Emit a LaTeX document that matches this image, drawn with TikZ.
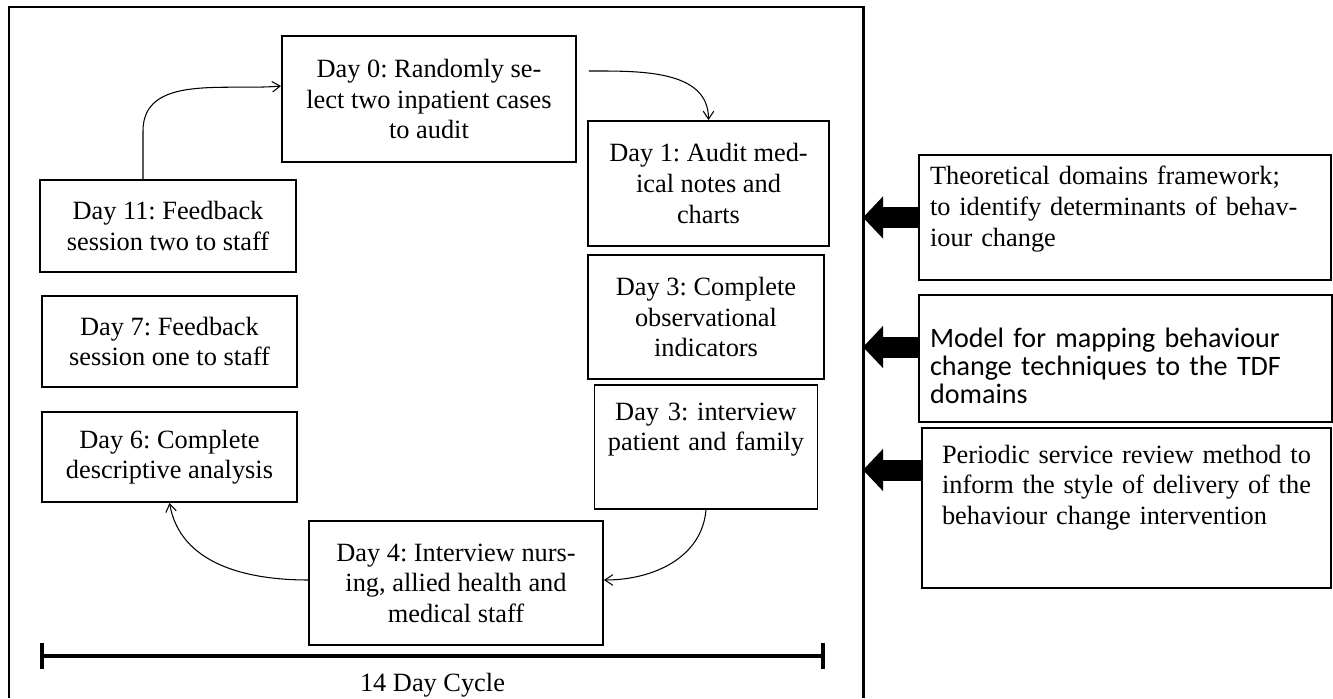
\documentclass[tikz,border=0pt]{standalone}
\usepackage{fontspec}
\setmainfont{Liberation Serif}
\newfontfamily\calibrifont{Carlito}
\usetikzlibrary{arrows.meta,positioning}
\frenchspacing

\begin{document}
\begin{tikzpicture}[
  daybox/.style={draw, line width=1.1pt, align=center, inner sep=2pt,
    font=\fontsize{15}{17.4}\selectfont},
  srcbox/.style={draw, line width=1.1pt, align=left, inner xsep=0.22cm,
    inner ysep=0pt, text width=7.8cm, font=\fontsize{15}{17.6}\selectfont},
  flow/.style={-{Straight Barb[length=4.5pt,width=6pt]}, line width=0.6pt},
  bigarrow/.style={-{Triangle[length=0.4cm,width=0.82cm]}, line width=0.42cm}]

  \useasboundingbox (0,0) rectangle (26.66,13.96);
  % frame round the cycle (open at the bottom)
  \draw[line width=1.7pt] (0.18,0) -- (0.18,13.82) -- (17.26,13.82) -- (17.26,0);
  \coordinate (frameR) at (17.26,0);

  % the 14 day cycle
  \node[daybox, minimum width=5.88cm, minimum height=2.52cm] (d0) at (8.58,11.98)
    {Day 0: Randomly se-\\lect two inpatient cases\\to audit};
  \node[daybox, minimum width=4.82cm, minimum height=2.5cm] (d1) at (14.17,10.29)
    {Day 1: Audit med-\\ical notes and\\charts};
  \node[daybox, minimum width=4.72cm, minimum height=2.48cm] (d3a) at (14.12,7.62)
    {Day 3: Complete\\observational\\indicators};
  \node[daybox, inner ysep=0pt, text width=4.32cm, text height=0.7cm, text depth=1.78cm] (d3b) at (14.12,5.02)
    {Day 3: interview\\patient and family};
  \node[daybox, minimum width=5.88cm, minimum height=2.48cm] (d4) at (9.12,2.3)
    {Day 4: Interview nurs-\\ing, allied health and\\medical staff};
  \node[daybox, minimum width=5.1cm, minimum height=1.8cm] (d6) at (3.39,4.82)
    {Day 6: Complete\\descriptive analysis};
  \node[daybox, minimum width=5.1cm, minimum height=1.82cm] (d7) at (3.39,7.13)
    {Day 7: Feedback\\session one to staff};
  \node[daybox, minimum width=5.12cm, minimum height=1.84cm] (d11) at (3.36,9.44)
    {Day 11: Feedback\\session two to staff};

  \draw[flow] ([xshift=-0.5cm]d11.north) -- ++(0,0.96) to[out=90,in=185] ([yshift=0.26cm]d0.west);
  \draw[flow] ([xshift=0.24cm,yshift=0.56cm]d0.east) to[out=0,in=90] (d1.north);
  \draw[flow] (d3b.south) to[out=-95,in=0] ([yshift=0.06cm]d4.east);
  \draw[flow] ([yshift=0.06cm]d4.west) to[out=180,in=-80] (d6.south);

  % time line
  \coordinate (cycL) at (0.8,0.84);
  \coordinate (cycR) at (16.5,0.84);
  \draw[{Bar[width=0.52cm]}-{Bar[width=0.52cm]}, line width=2.4pt] (cycL) -- (cycR);
  \node[anchor=base, font=\fontsize{15}{17.4}\selectfont] (cyc) at (8.65,0.14) {14 Day Cycle};

  % methods feeding the cycle
  \node[srcbox, text height=0.6cm, text depth=1.9cm] (tdf) at (22.5,9.61)
    {Theoretical domains framework;\\to identify determinants of behav-\\iour change};
  \node[srcbox, font=\calibrifont\fontsize{16}{16.2}\selectfont, text width=7.82cm,
    text height=1.04cm, text depth=1.5cm] (map) at (22.51,6.79)
    {Model for mapping behaviour\\change techniques to the TDF\\domains};
  \node[srcbox, inner xsep=0.4cm, text width=7.38cm, text height=0.7cm, text depth=2.5cm] (psr) at (22.53,3.8)
    {Periodic service review method to\\inform the style of delivery of the\\behaviour change intervention};

  \draw[bigarrow] (tdf.west) -- (tdf.west -| frameR);
  \draw[bigarrow] ([yshift=0.23cm]map.west) -- ([yshift=0.23cm]map.west -| frameR);
  \draw[bigarrow] ([yshift=0.76cm]psr.west) -- ([yshift=0.76cm]psr.west -| frameR);
\end{tikzpicture}
\end{document}
